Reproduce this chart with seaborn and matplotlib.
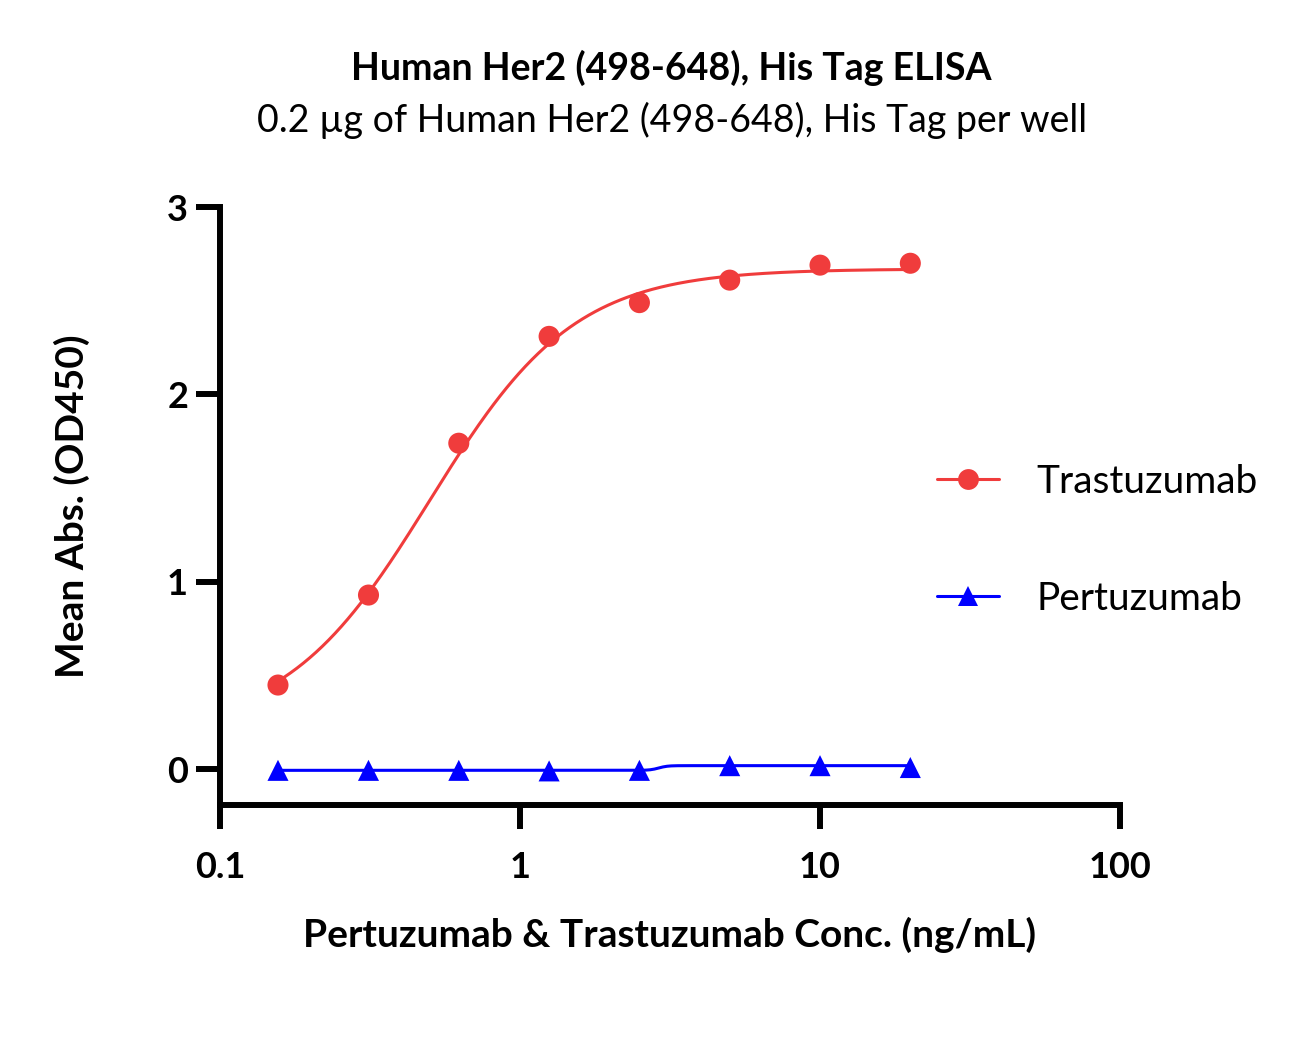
import numpy as np
import pandas as pd
import seaborn as sns
import matplotlib.pyplot as plt
from matplotlib.lines import Line2D

# Concentraciones (ng/mL) y absorbancias medias
conc = [0.156, 0.3125, 0.625, 1.25, 2.5, 5, 10, 20]
trastuzumab = [0.45, 0.93, 1.74, 2.31, 2.49, 2.61, 2.69, 2.70]
pertuzumab = [-0.005, -0.005, -0.005, -0.008, -0.005, 0.02, 0.02, 0.01]

# Parámetros del ajuste 4PL (bottom, top, EC50, hill) estimados de la curva
fit_trastuzumab = (0.20, 2.67, 0.50, 1.8)
fit_pertuzumab = (-0.005, 0.02, 2.9, 30)

series_names = ["Trastuzumab", "Pertuzumab"]
colors = {"Trastuzumab": "#F03C3C", "Pertuzumab": "#0000FF"}
markers = {"Trastuzumab": "o", "Pertuzumab": "^"}

xticks = [0.1, 1, 10, 100]
xtick_labels = ["0.1", "1", "10", "100"]
yticks = [0, 1, 2, 3]


def four_pl(x, bottom, top, ec50, hill):
    return bottom + (top - bottom) / (1 + (ec50 / x) ** hill)


puntos = pd.DataFrame({
    "conc": conc * 2,
    "abs": trastuzumab + pertuzumab,
    "anticuerpo": ["Trastuzumab"] * len(conc) + ["Pertuzumab"] * len(conc),
})

xs = np.geomspace(min(conc), max(conc), 300)
curvas = pd.DataFrame({
    "conc": np.concatenate([xs, xs]),
    "abs": np.concatenate([four_pl(xs, *fit_trastuzumab), four_pl(xs, *fit_pertuzumab)]),
    "anticuerpo": ["Trastuzumab"] * len(xs) + ["Pertuzumab"] * len(xs),
})

sns.set_theme(style="ticks")
plt.rcParams['font.family'] = ['Lato', 'DejaVu Sans']
plt.rcParams['text.color'] = 'black'
plt.rcParams['axes.labelcolor'] = 'black'
plt.rcParams['xtick.color'] = 'black'
plt.rcParams['ytick.color'] = 'black'

fig = plt.figure(figsize=(12.99, 10.53), dpi=100)
ax = fig.add_axes([0.1694, 0.2355, 0.6928, 0.5679])

sns.lineplot(data=curvas, x="conc", y="abs", hue="anticuerpo", palette=colors,
             linewidth=2.2, legend=False, ax=ax, hue_order=series_names)
sns.scatterplot(data=puntos, x="conc", y="abs", hue="anticuerpo", style="anticuerpo",
                palette=colors, markers=markers, s=230, linewidth=0,
                legend=False, ax=ax, hue_order=series_names, zorder=3)

ax.set_xscale("log")
ax.set_xlim(0.1, 100)
ax.set_ylim(-0.19, 3)
ax.set_xticks(xticks)
ax.set_xticklabels(xtick_labels)
ax.set_yticks(yticks)
ax.minorticks_off()

for s in ["top", "right"]:
    ax.spines[s].set_visible(False)
for s in ["left", "bottom"]:
    ax.spines[s].set_linewidth(4.3)
    ax.spines[s].set_color("black")
ax.tick_params(axis="both", length=17, width=4.3, color="black", labelsize=26)
ax.tick_params(axis="x", pad=16)
ax.tick_params(axis="y", pad=6)
for lab in ax.get_xticklabels() + ax.get_yticklabels():
    lab.set_fontweight("bold")

ax.set_xlabel("Pertuzumab & Trastuzumab Conc. (ng/mL)", fontsize=28, fontweight="bold")
ax.set_ylabel("Mean Abs. (OD450)", fontsize=28, fontweight="bold")
ax.xaxis.label.set_va("center")
ax.yaxis.label.set_va("center")
ax.xaxis.set_label_coords(0.5, (805 - 935) / 598)
ax.yaxis.set_label_coords((72 - 220) / 900, 0.5)

fig.text(0.517, 1 - 68 / 1053, "Human Her2 (498-648), His Tag ELISA",
         ha="center", va="center", fontsize=27, fontweight="bold")
fig.text(0.517, 1 - 120 / 1053, "0.2 µg of Human Her2 (498-648), His Tag per well",
         ha="center", va="center", fontsize=27)

handles = [Line2D([], [], color=colors[n], marker=markers[n], markersize=15,
                  linewidth=2.2, markeredgewidth=0) for n in series_names]
fig.legend(handles, series_names, loc="center left", bbox_to_anchor=(937 / 1299, 0.487),
           frameon=False, fontsize=28, handlelength=1.6, handletextpad=0.95,
           labelspacing=2.08, borderpad=0, borderaxespad=0)

plt.savefig("out.png", dpi=100)
